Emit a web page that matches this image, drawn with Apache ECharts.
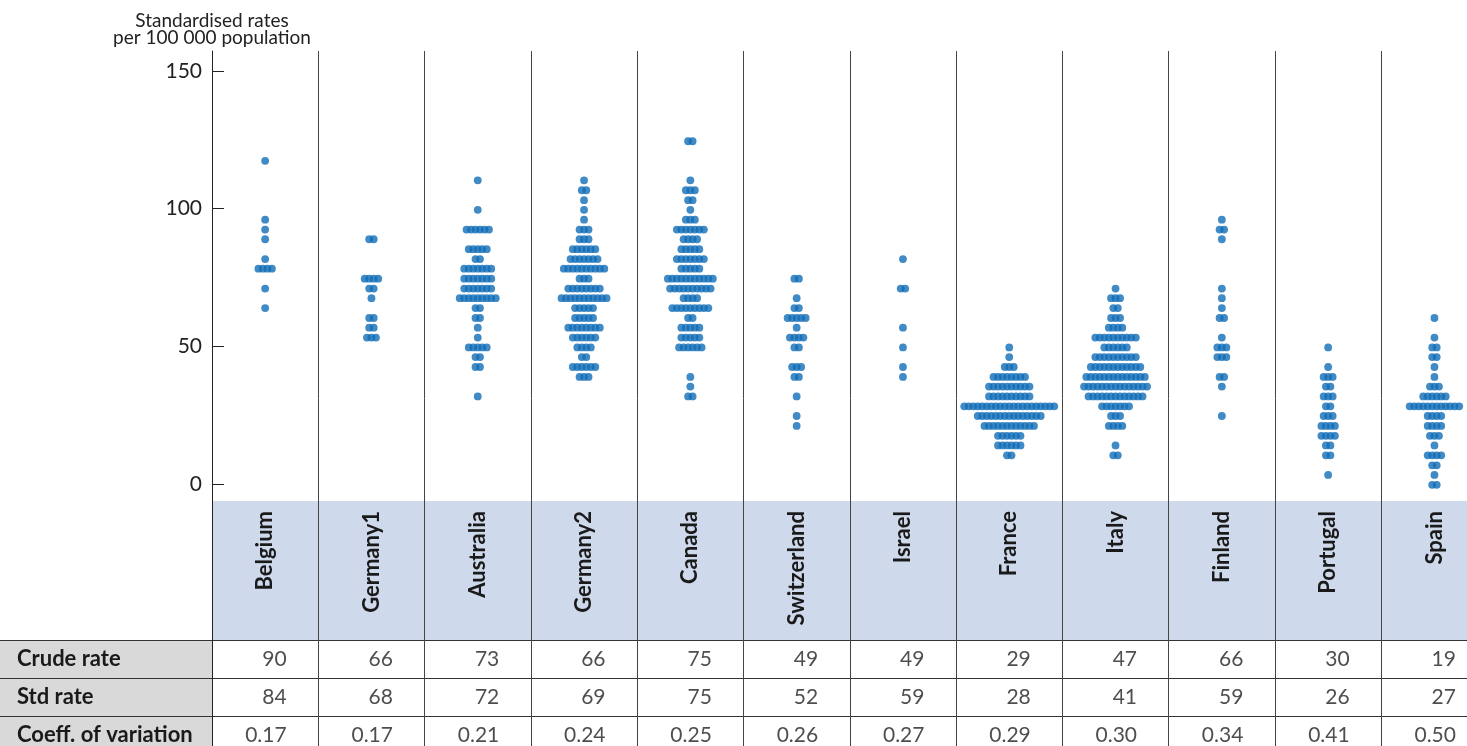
<!DOCTYPE html>
<html>
<head>
<meta charset="utf-8">
<script src="https://cdn.jsdelivr.net/npm/echarts@6/dist/echarts.min.js"></script>
<style>
html, body { margin: 0; padding: 0; background: #fff; }
#chart { width: 1467px; height: 746px; }
</style>
</head>
<body>
<div id="chart"></div>
<script>
// countries, left to right
var countries = ['Belgium', 'Germany1', 'Australia', 'Germany2', 'Canada', 'Switzerland',
                 'Israel', 'France', 'Italy', 'Finland', 'Portugal', 'Spain'];

// dot rows of each country: [standardised rate, number of dots on that row]
var belgium = [[117.4,1],[96.0,1],[92.4,1],[88.9,1],[81.7,1],[78.2,4],[71.0,1],[63.9,1]];
var germany1 = [[88.9,2],[74.6,4],[71.0,2],[67.5,1],[60.3,2],[56.8,2],[53.2,3]];
var australia = [[110.3,1],[99.6,1],[92.4,6],[85.3,5],[81.7,2],[78.2,7],[74.6,7],[71.0,7],[67.5,9],
                 [63.9,2],[60.3,2],[56.8,1],[53.2,1],[49.6,5],[46.1,2],[42.5,2],[31.8,1]];
var germany2 = [[110.3,1],[106.7,2],[103.1,1],[99.6,1],[96.0,1],[92.4,3],[88.9,3],[85.3,6],[81.7,7],
                [78.2,10],[74.6,3],[71.0,8],[67.5,11],[63.9,5],[60.3,5],[56.8,8],[53.2,6],[49.6,4],
                [46.1,2],[42.5,6],[38.9,3]];
var canada = [[124.5,2],[110.3,1],[106.7,3],[103.1,2],[99.6,1],[96.0,3],[92.4,7],[88.9,4],[85.3,5],
              [81.7,7],[78.2,5],[74.6,11],[71.0,10],[67.5,4],[63.9,9],[60.3,2],[56.8,5],[53.2,5],
              [49.6,6],[38.9,1],[35.4,1],[31.8,2]];
var switzerland = [[74.6,2],[67.5,1],[63.9,2],[60.3,5],[56.8,1],[53.2,4],[49.6,2],[42.5,3],[38.9,2],
                   [31.8,1],[24.7,1],[21.1,1]];
var israel = [[81.7,1],[71.0,2],[56.8,1],[49.6,1],[42.5,1],[38.9,1]];
var france = [[49.6,1],[46.1,1],[42.5,3],[38.9,8],[35.4,10],[31.8,10],[28.2,21],[24.7,15],[21.1,12],
              [17.5,6],[14.0,6],[10.4,2]];
var italy = [[71.0,1],[67.5,3],[63.9,2],[60.3,3],[56.8,4],[53.2,10],[49.6,6],[46.1,10],[42.5,12],
             [38.9,14],[35.4,15],[31.8,13],[28.2,7],[24.7,3],[21.1,4],[14.0,1],[10.4,2]];
var finland = [[96.0,1],[92.4,2],[88.9,1],[71.0,1],[67.5,1],[63.9,1],[60.3,2],[53.2,1],[49.6,3],
               [46.1,3],[38.9,2],[35.4,1],[24.7,1]];
var portugal = [[49.6,1],[42.5,1],[38.9,3],[35.4,2],[31.8,3],[28.2,2],[24.7,3],[21.1,4],[17.5,4],
                [14.0,2],[10.4,2],[3.3,1]];
var spain = [[60.3,1],[53.2,1],[49.6,2],[46.1,2],[42.5,1],[38.9,1],[35.4,3],[31.8,6],[28.2,12],
             [24.7,4],[21.1,4],[17.5,3],[14.0,1],[10.4,4],[6.8,2],[3.3,1],[-0.3,2]];

var dotRows = [belgium, germany1, australia, germany2, canada, switzerland,
               israel, france, italy, finland, portugal, spain];

// table under the chart
var tableRows = ['Crude rate', 'Std rate', 'Coeff. of variation'];
var crudeRate = [90, 66, 73, 66, 75, 49, 49, 29, 47, 66, 30, 19];
var stdRate = [84, 68, 72, 69, 75, 52, 59, 28, 41, 59, 26, 27];
var coeffVar = [0.17, 0.17, 0.21, 0.24, 0.25, 0.26, 0.27, 0.29, 0.30, 0.34, 0.41, 0.50];

var yTicks = [0, 50, 100, 150];

// layout (px)
var W = 1467, H = 746;
var PLOT_LEFT = 212, COL_W = 106.3, PLOT_TOP = 51;
var BAND_TOP = 501, TABLE_TOP = 640, TABLE_OVERHANG = 8; // last table row runs past the bottom
var ZERO_Y = 484, PX_PER_UNIT = 2.753;
var DOT_SIZE = 7.8, DOT_STEP = 4.5;
var FONT = 'Lato';

var gridRight = W - PLOT_LEFT - countries.length * COL_W; // last column is cut off
var yMax = (ZERO_Y - PLOT_TOP) / PX_PER_UNIT;
var yMin = (ZERO_Y - H) / PX_PER_UNIT;

// spread the dots of each row side by side around the column centre
var dots = [];
dotRows.forEach(function (rows, i) {
    rows.forEach(function (r) {
        var n = r[1];
        for (var j = 0; j < n; j++) {
            dots.push([i + 0.5 + (j - (n - 1) / 2) * DOT_STEP / COL_W, r[0]]);
        }
    });
});

var cells = [];
countries.forEach(function (c, i) {
    cells.push([i + 0.5, 0, String(crudeRate[i])]);
    cells.push([i + 0.5, 1, String(stdRate[i])]);
    cells.push([i + 0.5, 2, coeffVar[i].toFixed(2)]);
});

var chart = echarts.init(document.getElementById('chart'));
chart.setOption({
    animation: false,
    backgroundColor: '#fff',
    grid: [
        {left: PLOT_LEFT, right: gridRight, top: PLOT_TOP, bottom: 0, outerBoundsMode: 'none'},
        {left: PLOT_LEFT, right: gridRight, top: BAND_TOP, height: TABLE_TOP - BAND_TOP, outerBoundsMode: 'none',
            show: true, backgroundColor: '#cfd9ec', borderWidth: 0},
        {left: 0, width: PLOT_LEFT, top: TABLE_TOP, bottom: -TABLE_OVERHANG, outerBoundsMode: 'none',
            show: true, backgroundColor: '#d9d9d9', borderWidth: 0},
        {left: 0, right: gridRight, top: TABLE_TOP, bottom: -TABLE_OVERHANG, outerBoundsMode: 'none'}
    ],
    xAxis: [
        {gridIndex: 0, type: 'value', min: 0, max: countries.length, interval: 1,
            axisLine: {show: false}, axisTick: {show: false}, axisLabel: {show: false},
            splitLine: {show: true, lineStyle: {color: '#444', width: 1}}},
        {gridIndex: 1, type: 'category', data: countries, position: 'top',
            axisLine: {show: false}, axisTick: {show: false}, splitLine: {show: false},
            axisLabel: {inside: true, rotate: 90, margin: 10, interval: 0,
                fontFamily: FONT, fontWeight: 'bold', fontSize: 22, color: '#1a1a1a'}},
        {gridIndex: 2, type: 'value', show: false},
        {gridIndex: 3, type: 'value', min: -PLOT_LEFT / COL_W, max: countries.length, show: false}
    ],
    yAxis: [
        {gridIndex: 0, type: 'value', min: yMin, max: yMax,
            name: 'Standardised rates\nper 100 000 population',
            nameLocation: 'end', nameGap: 5,
            nameTextStyle: {fontFamily: FONT, fontSize: 19, color: '#222', align: 'center', lineHeight: 17},
            axisLine: {show: true, lineStyle: {color: '#222', width: 1}},
            axisTick: {show: true, inside: true, length: 12, customValues: yTicks,
                lineStyle: {color: '#222'}},
            axisLabel: {customValues: yTicks, margin: 10, fontFamily: FONT, fontSize: 21, color: '#222'},
            splitLine: {show: false}},
        {gridIndex: 1, type: 'value', show: false},
        {gridIndex: 2, type: 'value', show: false},
        {gridIndex: 3, type: 'category', inverse: true, data: tableRows,
            axisLine: {show: false, onZero: false}, axisTick: {show: false},
            axisLabel: {inside: true, margin: 17, fontFamily: FONT, fontWeight: 'bold',
                fontSize: 22, color: '#1a1a1a'},
            splitLine: {show: true, interval: 0, lineStyle: {color: '#333', width: 1}}}
    ],
    series: [
        {type: 'scatter', xAxisIndex: 0, yAxisIndex: 0, data: dots, silent: true,
            symbol: 'circle', symbolSize: DOT_SIZE, itemStyle: {color: '#106db6'}},
        {type: 'scatter', xAxisIndex: 3, yAxisIndex: 3, data: cells, silent: true,
            symbolSize: 1, itemStyle: {color: 'transparent'},
            label: {show: true, position: 'inside', align: 'right', offset: [21.5, 0],
                fontFamily: FONT, fontSize: 21, color: '#222',
                formatter: function (p) { return p.value[2]; }}}
    ]
});
</script>
</body>
</html>
